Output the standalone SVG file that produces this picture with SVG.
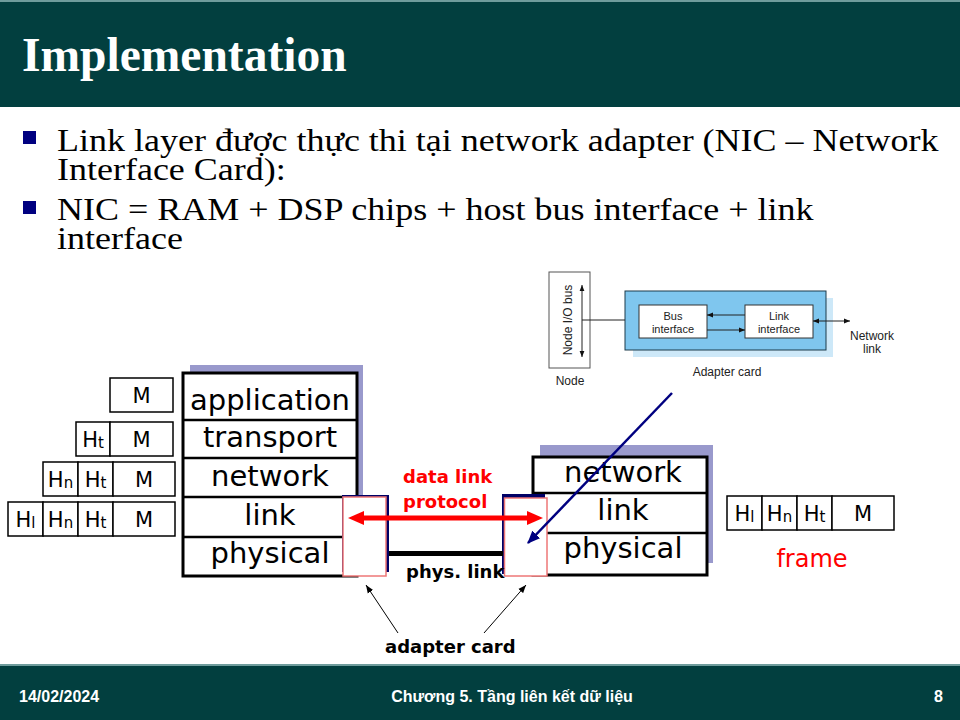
<svg xmlns="http://www.w3.org/2000/svg" width="960" height="720" viewBox="0 0 960 720">
<defs>
<style>
.bar{fill:#023f3f}
.barline{fill:#6f9c9c}
.title{font-family:"Liberation Serif","Times New Roman",serif;font-weight:bold;font-size:47.5px;fill:#fff}
.body{font-family:"Liberation Serif","Times New Roman",serif;font-size:32px;fill:#000}
.bullet{fill:#000080}
.foot{font-family:"Liberation Sans",Arial,sans-serif;font-weight:bold;font-size:16px;fill:#fff}
.shadow{fill:#9999cc}
.stack{fill:#fff;stroke:#000;stroke-width:3}
.sep{stroke:#000;stroke-width:2.5}
.layer{font-family:"DejaVu Sans",sans-serif;font-size:29px;fill:#000;text-anchor:middle}
.cell{fill:#fff;stroke:#000;stroke-width:1.5}
.ctext{font-family:"DejaVu Sans",sans-serif;font-size:21px;fill:#000;text-anchor:middle}
.sub{font-size:15px}
.navy{fill:#000066}
.card{fill:#fff;stroke:#ee7777;stroke-width:1.5}
.red{font-family:"DejaVu Sans",sans-serif;font-weight:bold;font-size:18px;fill:#ff0000}
.blk{font-family:"DejaVu Sans",sans-serif;font-weight:bold;font-size:18px;fill:#000}
.frame{font-family:"DejaVu Sans",sans-serif;font-size:24px;fill:#ff0000;text-anchor:middle}
.small{font-family:"Liberation Sans",Arial,sans-serif;font-size:12px;fill:#222;text-anchor:middle}
.tiny{font-family:"Liberation Sans",Arial,sans-serif;font-size:11px;fill:#222;text-anchor:middle}
.thin{stroke:#222;stroke-width:1;fill:none}
</style>
<marker id="rh" viewBox="0 0 16 14" refX="8" refY="7" markerWidth="16" markerHeight="14" orient="auto-start-reverse" markerUnits="userSpaceOnUse"><path d="M0,0 L16,7 L0,14 Z" fill="#ff0000"/></marker>
<marker id="ah" viewBox="0 0 10 10" refX="10" refY="5" markerWidth="8" markerHeight="8" orient="auto" markerUnits="userSpaceOnUse"><path d="M0,1 L10,5 L0,9 Z" fill="#000"/></marker>
<marker id="nh" viewBox="0 0 12 10" refX="11" refY="5" markerWidth="13" markerHeight="11" orient="auto" markerUnits="userSpaceOnUse"><path d="M0,0 L12,5 L0,10 Z" fill="#000080"/></marker>
<marker id="th" viewBox="0 0 10 10" refX="10" refY="5" markerWidth="6" markerHeight="6" orient="auto-start-reverse" markerUnits="userSpaceOnUse"><path d="M0,1 L10,5 L0,9 Z" fill="#111"/></marker>
</defs>

<rect width="960" height="720" fill="#fff"/>

<g id="header">
<rect class="bar" x="0" y="0" width="960" height="107"/>
<rect class="barline" x="0" y="0" width="960" height="2"/>
<text class="title" x="22" y="71">Implementation</text>
</g>

<g id="bullets">
<rect class="bullet" x="23" y="131" width="13" height="13"/>
<rect class="bullet" x="23" y="201" width="13" height="13"/>
<g transform="translate(57 0) scale(1.125 1)">
<text class="body" x="0" y="151">Link layer được thực thi tại network adapter (NIC – Network</text>
<text class="body" x="0" y="180">Interface Card):</text>
<text class="body" x="0" y="220">NIC = RAM + DSP chips + host bus interface + link</text>
<text class="body" x="0" y="249">interface</text>
</g>
</g>

<g id="nic-diagram">
<rect x="549" y="272" width="41" height="96" fill="#fff" stroke="#555" stroke-width="1"/>
<text class="small" transform="translate(572,320) rotate(-90)" font-size="13.5">Node I/O bus</text>
<text class="small" x="570" y="385" font-size="13">Node</text>
<rect x="633" y="298" width="200" height="59" fill="#cde8f8"/>
<rect x="625" y="291" width="201" height="59" fill="#7fc6ee" stroke="#1d3b4a" stroke-width="1"/>
<rect x="639" y="305" width="68" height="33" fill="#fff" stroke="#333" stroke-width="1"/>
<text class="tiny" x="673" y="320">Bus</text>
<text class="tiny" x="673" y="333">interface</text>
<rect x="745" y="305" width="68" height="33" fill="#fff" stroke="#333" stroke-width="1"/>
<text class="tiny" x="779" y="320">Link</text>
<text class="tiny" x="779" y="333">interface</text>
<text class="small" x="872" y="340">Network</text>
<text class="small" x="872" y="353">link</text>
<text class="small" x="727" y="376">Adapter card</text>
</g>

<g id="stack-left">
<rect class="shadow" x="190" y="365" width="173" height="200"/>
<rect class="stack" x="183" y="373" width="174" height="203"/>
<line class="sep" x1="183" y1="420" x2="357" y2="420"/>
<line class="sep" x1="183" y1="458" x2="357" y2="458"/>
<line class="sep" x1="183" y1="497" x2="357" y2="497"/>
<line class="sep" x1="183" y1="537" x2="357" y2="537"/>
<text class="layer" x="270" y="410">application</text>
<text class="layer" x="270" y="447">transport</text>
<text class="layer" x="270" y="486">network</text>
<text class="layer" x="270" y="525">link</text>
<text class="layer" x="270" y="563">physical</text>
</g>

<g id="stack-right">
<rect class="shadow" x="540" y="445" width="173" height="118"/>
<rect class="stack" x="533" y="457" width="174" height="118"/>
<line class="sep" x1="533" y1="493" x2="707" y2="493"/>
<line class="sep" x1="533" y1="533" x2="707" y2="533"/>
<text class="layer" x="623" y="482">network</text>
<text class="layer" x="623" y="520">link</text>
<text class="layer" x="623" y="558">physical</text>
</g>

<g id="msg-app">
<rect class="cell" x="110" y="378" width="63" height="34"/>
<text class="ctext" x="141.5" y="403">M</text>
</g>
<g id="msg-transport">
<rect class="cell" x="76" y="422" width="34" height="34"/>
<rect class="cell" x="110" y="422" width="63" height="34"/>
<text class="ctext" x="93" y="447">H<tspan class="sub" dy="1">t</tspan></text>
<text class="ctext" x="141.5" y="447">M</text>
</g>
<g id="msg-network">
<rect class="cell" x="43" y="462" width="35" height="34"/>
<rect class="cell" x="78" y="462" width="35" height="34"/>
<rect class="cell" x="113" y="462" width="62" height="34"/>
<text class="ctext" x="60.5" y="487">H<tspan class="sub" dy="1">n</tspan></text>
<text class="ctext" x="95.5" y="487">H<tspan class="sub" dy="1">t</tspan></text>
<text class="ctext" x="144" y="487">M</text>
</g>
<g id="msg-link">
<rect class="cell" x="8" y="502" width="35" height="34"/>
<rect class="cell" x="43" y="502" width="35" height="34"/>
<rect class="cell" x="78" y="502" width="35" height="34"/>
<rect class="cell" x="113" y="502" width="62" height="34"/>
<text class="ctext" x="25.5" y="527">H<tspan class="sub" dy="1">l</tspan></text>
<text class="ctext" x="60.5" y="527">H<tspan class="sub" dy="1">n</tspan></text>
<text class="ctext" x="95.5" y="527">H<tspan class="sub" dy="1">t</tspan></text>
<text class="ctext" x="144" y="527">M</text>
</g>

<g id="frame">
<rect class="cell" x="727" y="496" width="35" height="34"/>
<rect class="cell" x="762" y="496" width="35" height="34"/>
<rect class="cell" x="797" y="496" width="35" height="34"/>
<rect class="cell" x="832" y="496" width="62" height="34"/>
<text class="ctext" x="744.5" y="521">H<tspan class="sub" dy="1">l</tspan></text>
<text class="ctext" x="779.5" y="521">H<tspan class="sub" dy="1">n</tspan></text>
<text class="ctext" x="814.5" y="521">H<tspan class="sub" dy="1">t</tspan></text>
<text class="ctext" x="863" y="521">M</text>
<text class="frame" x="812" y="567">frame</text>
</g>

<g id="adapter-left">
<rect class="navy" x="342" y="495" width="47" height="77"/>
<rect class="card" x="343" y="497" width="43" height="79"/>
</g>
<g id="adapter-right">
<rect class="navy" x="502" y="494" width="43" height="80"/>
<rect class="card" x="504.5" y="498" width="42.5" height="78"/>
</g>

<g id="connectors">
<line x1="389" y1="553.5" x2="503" y2="553.5" stroke="#000" stroke-width="5"/>
<line x1="356" y1="518" x2="535" y2="518" stroke="#ff0000" stroke-width="5" marker-start="url(#rh)" marker-end="url(#rh)"/>
<line x1="398" y1="633" x2="366" y2="585" stroke="#000" stroke-width="1" marker-end="url(#ah)"/>
<line x1="484" y1="633" x2="526" y2="585" stroke="#000" stroke-width="1" marker-end="url(#ah)"/>
<line x1="672" y1="393" x2="528" y2="543" stroke="#000080" stroke-width="2.5" marker-end="url(#nh)"/>
<line class="thin" x1="582" y1="285" x2="582" y2="357" marker-start="url(#th)" marker-end="url(#th)"/>
<line class="thin" x1="582" y1="320" x2="625" y2="320"/>
<line class="thin" x1="745" y1="315" x2="707" y2="315" marker-end="url(#th)"/>
<line class="thin" x1="707" y1="330" x2="745" y2="330" marker-end="url(#th)"/>
<line class="thin" x1="813" y1="321" x2="850" y2="321" marker-start="url(#th)" marker-end="url(#th)"/>
</g>

<g id="labels">
<text class="red" x="403" y="483">data link</text>
<text class="red" x="403" y="508">protocol</text>
<text class="blk" x="406" y="578" font-size="17">phys. link</text>
<text class="blk" x="385" y="653">adapter card</text>
</g>

<g id="footer">
<rect class="bar" x="0" y="664" width="960" height="56"/>
<rect class="barline" x="0" y="664" width="960" height="2"/>
<text class="foot" x="19" y="702">14/02/2024</text>
<text class="foot" x="512" y="702" text-anchor="middle">Chương 5. Tầng liên kết dữ liệu</text>
<text class="foot" x="943" y="702" text-anchor="end">8</text>
</g>
</svg>
